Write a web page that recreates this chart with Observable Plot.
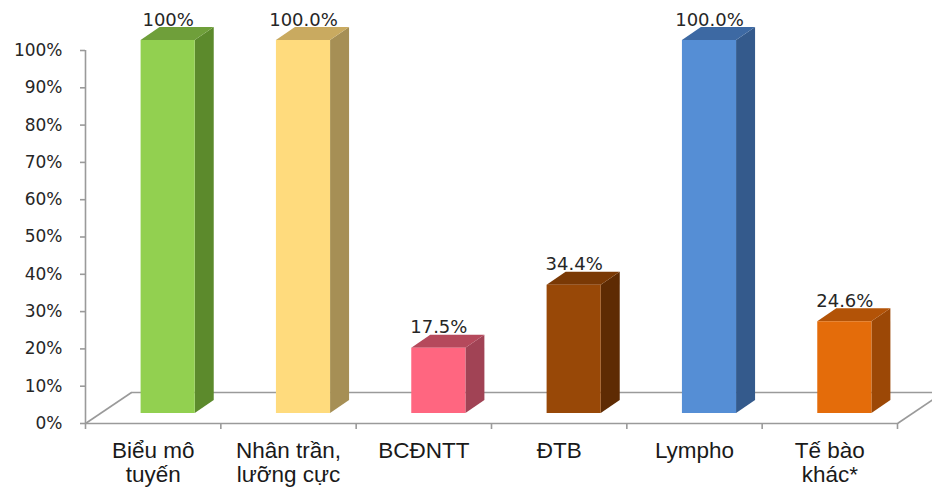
<!DOCTYPE html>
<html>
<head>
<meta charset="utf-8">
<script src="https://cdn.jsdelivr.net/npm/d3@7"></script>
<script src="https://cdn.jsdelivr.net/npm/@observablehq/plot@0.6"></script>
<style>
  body { margin: 0; background: #fff; }
  svg { display: block; }
</style>
</head>
<body>
<div id="chart"></div>
<script>
// Cell types and the share of cases in which each was found
const categories = ["Biểu mô\ntuyến", "Nhân trần,\nlưỡng cực", "BCĐNTT", "ĐTB", "Lympho", "Tế bào\nkhác*"];
const values = [100, 100, 17.5, 34.4, 100, 24.6];
const valueLabels = ["100%", "100.0%", "17.5%", "34.4%", "100.0%", "24.6%"];
const yTicks = [0, 10, 20, 30, 40, 50, 60, 70, 80, 90, 100];

// Face colours of each 3D column: front, top, side
const frontColors = ["#92D050", "#FFDB7D", "#FF6680", "#984807", "#558ED5", "#E46C0A"];
const topColors   = ["#6F9F3A", "#C9AA60", "#B5495C", "#7A3905", "#3D69A3", "#B35307"];
const sideColors  = ["#5C8A2C", "#A68F55", "#A14355", "#5E2B03", "#345A8C", "#9C4806"];

// Layout
const width = 932, height = 489;
const margin = {top: 50, right: 35, bottom: 66, left: 85};
const pxX = (width - margin.left - margin.right) / categories.length; // px per category
const pxY = (height - margin.top - margin.bottom) / 100;              // px per percentage point

// Oblique depth (pixels): floor depth, column inset from the front edge, column thickness
const floor = {dx: 46, dy: 31};
const inset = {dx: 15, dy: 10};
const depth = {dx: 19, dy: 13};
const halfBar = 0.2; // half column width, in category units

const gray = "#9a9a9a";
const ddx = depth.dx / pxX, ddy = depth.dy / pxY;

const bars = values.map((v, i) => ({
  i, v,
  x1: i + 0.5 - halfBar,
  x2: i + 0.5 + halfBar,
  front: frontColors[i], top: topColors[i], side: sideColors[i],
  label: valueLabels[i]
}));

// Right-hand side face of each column (parallelogram)
const sides = bars.flatMap(b => [
  {k: b.i, x: b.x2, y1: 0, y2: b.v, fill: b.side},
  {k: b.i, x: b.x2 + ddx, y1: ddy, y2: b.v + ddy, fill: b.side}
]);
// Top face of each column (parallelogram)
const tops = bars.flatMap(b => [
  {k: b.i, y: b.v, x1: b.x1, x2: b.x2, fill: b.top},
  {k: b.i, y: b.v + ddy, x1: b.x1 + ddx, x2: b.x2 + ddx, fill: b.top}
]);

const n = categories.length;
const edges = d3.range(n + 1);

const chart = Plot.plot({
  width, height,
  marginTop: margin.top, marginRight: margin.right,
  marginBottom: margin.bottom, marginLeft: margin.left,
  style: {fontFamily: "DejaVu Sans", fontSize: "17px", color: "#262626", background: "#fff"},
  x: {type: "linear", domain: [0, n], axis: null},
  y: {type: "linear", domain: [0, 100], axis: null},
  color: {type: "identity"},
  marks: [
    // floor: back edge and side edges
    Plot.ruleY([0], {x1: 0, x2: n, dx: floor.dx, dy: -floor.dy, stroke: gray, strokeWidth: 1.6}),
    Plot.link(edges.filter(e => e === 0 || e === n), {
      x1: d => d, y1: 0, x2: d => d + floor.dx / pxX, y2: floor.dy / pxY,
      stroke: gray, strokeWidth: 1.6
    }),
    // front edge with category ticks
    Plot.ruleY([0], {x1: 0, x2: n, stroke: gray, strokeWidth: 1.6}),
    Plot.ruleX(edges, {y1: 0, y2: -6 / pxY, stroke: gray, strokeWidth: 1.6}),
    // value axis
    Plot.ruleX([0], {y1: 0, y2: 100, stroke: gray, strokeWidth: 1.6}),
    Plot.axisY(yTicks, {
      tickSize: 5, tickPadding: 18, tickFormat: d => d + "%",
      fontSize: 17, fontFamily: "DejaVu Sans", fill: "#262626",
      stroke: gray, strokeWidth: 1.6
    }),
    // 3D columns
    Plot.areaY(sides, {x: "x", y1: "y1", y2: "y2", z: "k", fill: "fill", dx: inset.dx, dy: -inset.dy}),
    Plot.areaX(tops, {y: "y", x1: "x1", x2: "x2", z: "k", fill: "fill", dx: inset.dx, dy: -inset.dy}),
    Plot.rect(bars, {x1: "x1", x2: "x2", y1: 0, y2: "v", fill: "front", dx: inset.dx, dy: -inset.dy}),
    // value labels above the columns
    Plot.text(bars, {
      x: d => d.i + 0.5, y: "v", text: "label",
      dx: inset.dx, dy: -(inset.dy + depth.dy + 2), lineAnchor: "bottom",
      fontFamily: "DejaVu Sans", fontSize: 18, fill: "#262626"
    }),
    // category labels
    Plot.text(categories, {
      x: (d, i) => i + 0.5, y: 0, text: d => d,
      lineAnchor: "top", lineHeight: 1.03, dy: 18.5,
      fontFamily: "Liberation Sans, Arial", fontSize: 22.5, fill: "#1a1a1a"
    })
  ]
});

document.getElementById("chart").append(chart);
</script>
</body>
</html>
